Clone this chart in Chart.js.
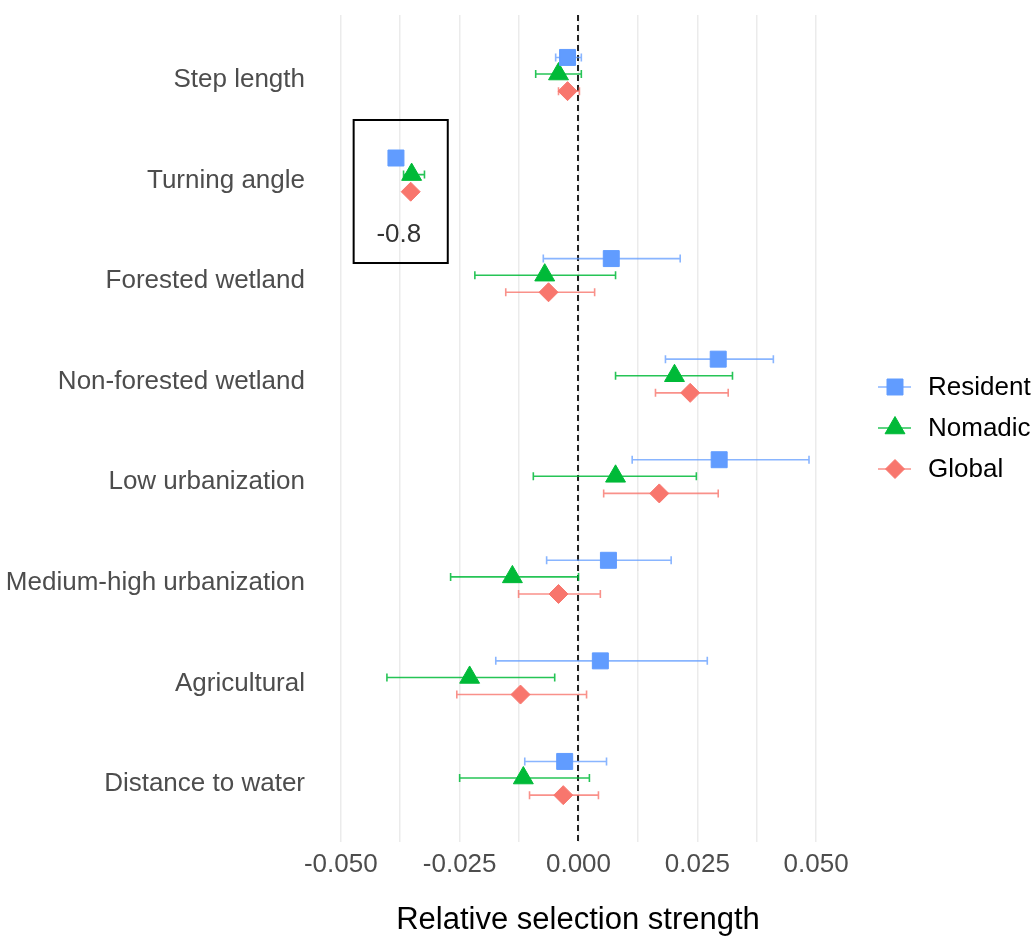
<!DOCTYPE html>
<html>
<head>
<meta charset="utf-8">
<script src="https://cdn.jsdelivr.net/npm/chart.js@4/dist/chart.umd.min.js"></script>
<style>
  html, body { margin: 0; padding: 0; background: #fff; }
  #wrap { width: 1034px; height: 936px; position: relative; }
</style>
</head>
<body>
<div id="wrap"><canvas id="chart" width="1034" height="936"></canvas></div>
<script>
// Data (top to bottom)
const categories = ['Step length', 'Turning angle', 'Forested wetland', 'Non-forested wetland',
    'Low urbanization', 'Medium-high urbanization', 'Agricultural', 'Distance to water'];

// Turning angle is off-scale (about -0.8); its marks sit inside the inset box
const residentMean = [-0.0023, -0.0384, 0.0069, 0.0294, 0.0296, 0.0063, 0.0046, -0.0029];
const residentLow  = [-0.0048, -0.0384, -0.0074, 0.0183, 0.0113, -0.0067, -0.0174, -0.0113];
const residentHigh = [0.0006, -0.0384, 0.0214, 0.0410, 0.0485, 0.0195, 0.0271, 0.0059];

const nomadicMean = [-0.0042, -0.0351, -0.0071, 0.0202, 0.0078, -0.0139, -0.0229, -0.0116];
const nomadicLow  = [-0.0090, -0.0368, -0.0218, 0.0078, -0.0095, -0.0269, -0.0403, -0.0250];
const nomadicHigh = [0.0006, -0.0324, 0.0078, 0.0324, 0.0248, 0.0000, -0.0050, 0.0023];

const globalMean = [-0.0023, -0.0353, -0.0063, 0.0235, 0.0170, -0.0042, -0.0122, -0.0032];
const globalLow  = [-0.0042, -0.0353, -0.0153, 0.0162, 0.0053, -0.0126, -0.0256, -0.0103];
const globalHigh = [0.0002, -0.0353, 0.0034, 0.0315, 0.0294, 0.0046, 0.0017, 0.0042];

const xTicks = [-0.05, -0.0375, -0.025, -0.0125, 0, 0.0125, 0.025, 0.0375, 0.05];
const insetLabel = '-0.8';

const FONT = 'Liberation Sans, Arial, sans-serif';

// Build a series for the scatter plot (category index + dodge offset)
function buildSeries(mean, low, high, offset) {
    return mean.map((m, i) => ({ x: m, y: i + 1 + offset, lo: low[i], hi: high[i] }));
}

const series = [
    { label: 'Resident', color: '#619CFF', bar: 'rgba(97,156,255,0.75)', style: 'rect', radius: 11.3,
      data: buildSeries(residentMean, residentLow, residentHigh, -0.165) },
    { label: 'Nomadic', color: '#00BA38', bar: 'rgba(0,186,56,0.85)', style: 'triangle', radius: 11.5,
      data: buildSeries(nomadicMean, nomadicLow, nomadicHigh, 0) },
    { label: 'Global', color: '#F8766D', bar: 'rgba(248,118,109,0.8)', style: 'rectRot', radius: 9.5,
      data: buildSeries(globalMean, globalLow, globalHigh, 0.17) }
];

// Error bars, zero line, inset box and legend
const extrasPlugin = {
    id: 'extras',
    beforeDatasetsDraw(chart) {
        const ctx = chart.ctx;
        const xs = chart.scales.x, ys = chart.scales.y;
        const area = chart.chartArea;

        // dashed zero line
        ctx.save();
        ctx.strokeStyle = '#222';
        ctx.lineWidth = 2;
        ctx.setLineDash([6, 4]);
        const x0 = Math.round(xs.getPixelForValue(0));
        ctx.beginPath();
        ctx.moveTo(x0, area.top);
        ctx.lineTo(x0, area.bottom);
        ctx.stroke();
        ctx.restore();

        // error bars
        chart.data.datasets.forEach(ds => {
            ctx.save();
            ctx.strokeStyle = ds.barColor;
            ctx.lineWidth = 1.6;
            ds.data.forEach(p => {
                if (p.hi - p.lo < 1e-9) return;
                const y = ys.getPixelForValue(p.y);
                const a = xs.getPixelForValue(p.lo), b = xs.getPixelForValue(p.hi);
                ctx.beginPath();
                ctx.moveTo(a, y); ctx.lineTo(b, y);
                ctx.moveTo(a, y - 4); ctx.lineTo(a, y + 4);
                ctx.moveTo(b, y - 4); ctx.lineTo(b, y + 4);
                ctx.stroke();
            });
            ctx.restore();
        });
    },
    afterDatasetsDraw(chart) {
        const ctx = chart.ctx;
        const xs = chart.scales.x, ys = chart.scales.y;

        // inset box for the off-scale turning angle
        const bx1 = xs.getPixelForValue(-0.0473), bx2 = xs.getPixelForValue(-0.0275);
        const by1 = ys.getPixelForValue(1.457), by2 = ys.getPixelForValue(2.879);
        ctx.save();
        ctx.strokeStyle = '#000';
        ctx.lineWidth = 2;
        ctx.strokeRect(bx1, by1, bx2 - bx1, by2 - by1);
        ctx.fillStyle = '#333';
        ctx.font = '26px ' + FONT;
        ctx.textAlign = 'center';
        ctx.textBaseline = 'middle';
        ctx.fillText(insetLabel, xs.getPixelForValue(-0.0378), ys.getPixelForValue(2.6));
        ctx.restore();

        // legend
        const lx = 895, ly0 = 387, step = 41;
        chart.data.datasets.forEach((ds, i) => {
            const y = ly0 + i * step;
            ctx.save();
            ctx.strokeStyle = ds.barColor;
            ctx.lineWidth = 1.6;
            ctx.beginPath();
            ctx.moveTo(lx - 17, y); ctx.lineTo(lx + 16, y);
            ctx.stroke();
            ctx.fillStyle = ds.backgroundColor;
            ctx.strokeStyle = ds.backgroundColor;
            ctx.lineWidth = 1;
            Chart.helpers.drawPoint(ctx, { pointStyle: ds.pointStyle, radius: ds.pointRadius, borderWidth: 1 }, lx, y);
            ctx.fillStyle = '#000';
            ctx.font = '26px ' + FONT;
            ctx.textAlign = 'left';
            ctx.textBaseline = 'middle';
            ctx.fillText(ds.label, 928, y + 1);
            ctx.restore();
        });
    }
};

const ctx = document.getElementById('chart').getContext('2d');

new Chart(ctx, {
    type: 'scatter',
    data: {
        datasets: series.map(s => ({
            label: s.label,
            data: s.data,
            backgroundColor: s.color,
            borderColor: s.color,
            borderWidth: 1,
            pointStyle: s.style,
            pointRadius: s.radius,
            pointHoverRadius: s.radius,
            barColor: s.bar
        }))
    },
    options: {
        responsive: false,
        animation: false,
        layout: { padding: { top: 15, right: 196, left: 0, bottom: 0 } },
        plugins: {
            legend: { display: false },
            tooltip: { enabled: false }
        },
        scales: {
            x: {
                type: 'linear',
                min: -0.0548,
                max: 0.0546,
                afterBuildTicks: scale => { scale.ticks = xTicks.map(v => ({ value: v })); },
                afterFit: scale => { scale.height = 936 - 842; },
                border: { display: false },
                grid: { color: '#ebebeb', lineWidth: 1.5, drawTicks: false },
                ticks: {
                    color: '#4d4d4d',
                    font: { family: FONT, size: 26 },
                    padding: 7,
                    maxRotation: 0,
                    autoSkip: false,
                    callback: v => (Math.abs((v / 0.025) - Math.round(v / 0.025)) < 1e-6 ? v.toFixed(3) : '')
                },
                title: {
                    display: true,
                    text: 'Relative selection strength',
                    color: '#000',
                    font: { family: FONT, size: 31 },
                    padding: { top: 19, bottom: -3 }
                }
            },
            y: {
                type: 'linear',
                reverse: true,
                min: 0.413,
                max: 8.636,
                afterBuildTicks: scale => { scale.ticks = categories.map((c, i) => ({ value: i + 1 })); },
                afterFit: scale => {
                    scale.width = 318;
                    scale.paddingTop = 0;
                    scale.paddingBottom = 0;
                },
                border: { display: false },
                grid: { display: false, drawTicks: false },
                ticks: {
                    color: '#4d4d4d',
                    font: { family: FONT, size: 26 },
                    padding: 13,
                    labelOffset: 6,
                    callback: v => categories[Math.round(v) - 1] || ''
                }
            }
        }
    },
    plugins: [extrasPlugin]
});
</script>
</body>
</html>
